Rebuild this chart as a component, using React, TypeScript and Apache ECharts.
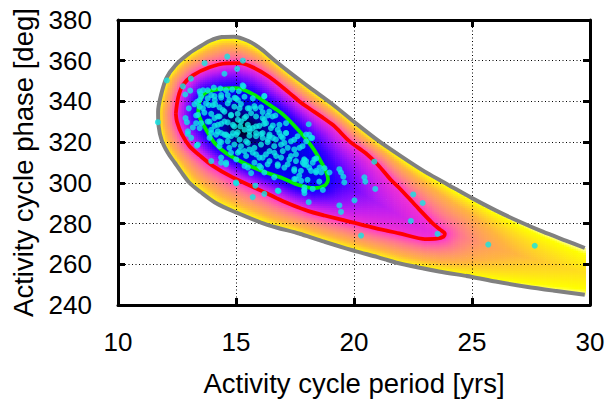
import React, { useEffect, useRef } from "react";
import * as echarts from "echarts";

// ---------- axes ----------
const X_MIN = 10;
const X_MAX = 30;
const X_STEP = 5;
const Y_MIN = 240;
const Y_MAX = 380;
const Y_STEP = 20;
const X_TITLE = "Activity cycle period [yrs]";
const Y_TITLE = "Activity cycle phase [deg]";

// ---------- contours (period [yrs], phase [deg]) ----------
// outer (gray) contour, open at the right edge of the plot
const outerContour: number[][] = [
  [29.78, 268], [29, 271.5], [28, 276], [27, 281], [26, 286.5], [25, 292.5], [24, 299],
  [23, 305.5], [22, 313], [21, 321], [20, 330], [19.1, 338.5], [18.1, 347], [17.3, 354],
  [16.6, 360.5], [16.1, 365.5], [15.5, 369.8], [14.9, 371.8], [14.4, 371.6], [13.9, 369.8],
  [13.4, 366.5], [13.0, 363.5], [12.45, 358], [12.05, 351.5], [11.82, 343], [11.7, 335],
  [11.72, 328], [11.85, 321], [12.1, 315], [12.4, 310], [12.7, 305], [13.03, 300],
  [13.5, 295.5], [14.16, 290], [15.0, 285.5], [16.3, 279.5], [17.7, 275], [18.5, 272],
  [19.9, 267], [21.0, 263.5], [21.9, 260.5], [23.6, 256.5], [25.0, 253.8], [26.0, 251.5],
  [27.3, 249], [28.5, 247], [29.78, 245],
];
// middle (red) contour, closed
const middleContour: number[][] = [
  [12.45, 334], [12.55, 342], [12.75, 348], [13.17, 352.8], [13.88, 356.8], [14.6, 358.7],
  [15.15, 358.8], [15.71, 356.8], [16.42, 352], [17.26, 344.2], [17.69, 340], [18.11, 336.5],
  [19.1, 328.5], [19.8, 320.5], [20.5, 314.5], [21.0, 309], [21.6, 301], [21.92, 297.5],
  [22.6, 289], [23.3, 280.5], [23.65, 277], [23.85, 275], [23.8, 273.6], [23.5, 272.6],
  [23.05, 272.4], [21.92, 275.2], [20.9, 277.8], [19.94, 280.6], [18.11, 286], [17.0, 291],
  [16.28, 295], [14.86, 302.7], [14.0, 308.5], [13.46, 313.5], [13.03, 318], [12.7, 324],
  [12.5, 330], [12.45, 334],
];
// inner (green) contour, closed
const innerContour: number[][] = [
  [13.4, 334], [13.46, 340], [13.74, 344.5], [14.37, 346.2], [15.0, 346.5], [15.6, 344.3],
  [16.42, 338.3], [17.0, 333.5], [17.69, 325.3], [18.2, 318], [18.55, 311.5], [18.82, 305.5],
  [18.9, 301.5], [18.75, 298.6], [18.3, 297.4], [17.69, 298.8], [16.98, 302.3], [16.3, 305],
  [15.5, 308.8], [14.6, 314.5], [14.1, 319.5], [13.74, 326], [13.5, 331], [13.4, 334],
];
const densityPeak: number[] = [15.3, 326.5];

// ---------- individual solutions (cyan dots) ----------
const samples: number[][] = [
  [14.63, 362.0], [15.29, 360.0], [13.67, 358.8], [15.05, 356.0], [14.51, 353.6], [12.07, 350.3],
  [13.09, 351.2], [12.75, 347.4], [13.06, 345.3], [12.85, 343.4], [13.46, 345.0], [13.60, 345.5],
  [14.34, 346.3], [14.58, 345.5], [14.84, 345.8], [15.12, 345.0], [15.32, 347.4], [16.20, 342.6],
  [13.24, 338.6], [13.46, 340.7], [13.00, 336.6], [12.86, 331.8], [13.31, 333.1], [13.17, 327.2],
  [12.96, 324.0], [11.69, 329.8], [13.60, 336.6], [13.95, 343.1], [14.10, 340.7], [14.37, 343.1],
  [14.72, 340.7], [14.94, 341.8], [15.08, 340.7], [13.85, 338.2], [14.12, 338.6], [14.44, 335.8],
  [15.15, 336.6], [15.57, 336.6], [15.82, 336.6], [16.13, 334.7], [14.30, 332.6], [14.79, 333.1],
  [15.08, 331.0], [15.43, 332.6], [16.13, 331.8], [16.35, 333.1], [16.67, 333.1], [13.88, 330.1],
  [14.09, 331.8], [14.23, 328.5], [14.51, 330.1], [14.87, 328.5], [15.18, 327.7], [15.57, 326.9],
  [15.85, 327.7], [16.19, 328.9], [16.56, 328.2], [17.12, 324.5], [13.46, 326.9], [13.95, 326.1],
  [14.37, 324.5], [14.58, 323.7], [15.01, 323.7], [16.06, 324.0], [16.42, 323.7], [16.91, 322.9],
  [12.96, 325.3], [13.10, 322.1], [13.38, 318.8], [13.88, 322.1], [14.16, 323.7], [14.30, 320.4],
  [14.65, 322.9], [14.87, 324.5], [15.15, 321.2], [15.43, 320.4], [15.57, 325.3], [15.85, 322.9],
  [16.13, 324.5], [16.35, 321.2], [16.56, 322.1], [16.84, 324.5], [17.05, 319.6], [17.47, 321.2],
  [17.69, 317.2], [17.97, 320.4], [14.30, 318.0], [14.72, 317.2], [15.08, 314.8], [15.36, 315.6],
  [15.57, 316.4], [15.85, 314.0], [16.13, 312.4], [16.42, 315.6], [16.70, 313.2], [16.98, 315.6],
  [17.26, 311.5], [17.54, 314.0], [17.83, 309.9], [13.95, 310.7], [14.37, 312.4], [14.58, 309.9],
  [15.01, 311.5], [15.50, 307.5], [15.99, 308.3], [16.42, 310.7], [16.77, 309.1], [17.05, 307.5],
  [17.47, 305.9], [17.97, 310.7], [17.54, 301.8], [15.01, 299.7], [15.82, 298.6], [16.20, 294.6],
  [15.71, 293.0], [16.80, 295.9], [17.90, 296.5], [18.08, 328.8], [18.23, 322.1], [18.32, 311.6],
  [18.40, 312.0], [17.90, 311.1], [17.97, 308.8], [18.18, 305.9], [18.40, 305.9], [18.61, 305.1],
  [18.54, 307.5], [18.75, 307.2], [18.96, 305.1], [17.76, 301.0], [17.90, 297.8], [17.90, 294.9],
  [18.68, 296.5], [18.08, 290.5], [19.38, 306.7], [19.45, 305.1], [19.55, 303.0], [19.59, 300.2],
  [20.02, 291.4], [19.38, 288.9], [19.45, 285.7], [20.44, 302.7], [20.48, 300.6], [20.86, 310.4],
  [20.90, 297.0], [22.51, 294.3], [22.91, 290.1], [23.54, 274.9], [20.30, 274.1], [22.41, 281.3],
  [25.69, 269.7], [27.66, 269.1], [17.12, 329.3], [17.97, 323.7], [12.92, 329.8], [13.34, 318.3],
  [15.28, 347.9], [13.80, 345.5], [14.06, 346.8], [13.49, 343.9], [13.52, 342.3], [13.80, 341.5],
  [14.09, 342.6], [14.37, 341.9], [14.65, 343.1], [15.00, 341.5], [15.36, 342.3], [15.71, 341.5],
  [16.20, 342.6], [13.35, 339.8], [13.46, 337.4], [13.73, 339.0], [14.02, 338.2], [14.30, 337.1],
  [14.65, 339.0], [14.93, 337.4], [15.21, 338.7], [15.50, 336.6], [15.78, 337.7], [16.06, 337.1],
  [16.41, 335.0], [13.39, 333.4], [13.66, 334.5], [13.95, 333.9], [14.23, 332.6], [14.51, 335.0],
  [14.79, 333.4], [15.07, 333.9], [15.36, 331.8], [15.64, 334.2], [15.85, 332.6], [16.20, 331.0],
  [16.55, 332.6], [16.84, 328.5], [13.52, 329.3], [13.80, 330.1], [14.09, 328.0], [14.37, 329.0],
  [14.65, 329.7], [14.93, 327.7], [15.21, 330.1], [15.50, 328.5], [15.71, 326.9], [15.99, 328.0],
  [16.27, 329.3], [16.48, 326.9], [16.77, 326.1], [17.12, 324.5], [13.95, 324.5], [14.23, 325.3],
  [14.51, 323.7], [14.79, 322.9], [15.07, 324.8], [15.36, 326.1], [15.57, 323.2], [15.85, 324.5],
  [16.13, 322.1], [16.41, 322.9], [16.69, 321.3], [16.98, 322.1], [17.33, 320.4], [17.61, 322.9],
  [18.10, 323.7], [18.18, 322.1], [14.37, 320.0], [14.65, 320.4], [14.93, 318.8], [15.21, 318.0],
  [15.50, 319.6], [15.78, 317.2], [16.06, 318.8], [16.34, 320.0], [16.62, 318.0], [16.91, 318.8],
  [17.19, 317.2], [17.47, 316.4], [17.82, 318.0], [14.79, 314.8], [15.14, 315.6], [15.43, 313.2],
  [15.71, 314.8], [15.99, 312.4], [16.27, 314.0], [16.62, 314.8], [16.91, 312.4], [17.33, 313.2],
  [17.54, 310.7], [17.89, 311.6], [18.25, 309.9], [15.36, 308.3], [15.78, 309.9], [16.06, 307.5],
  [16.34, 309.1], [16.77, 308.3], [17.19, 309.1], [17.47, 306.7], [17.89, 309.1], [17.75, 305.9],
  [18.10, 307.5], [18.39, 305.1], [14.37, 309.9], [14.58, 309.1], [15.00, 300.2], [15.64, 304.8],
  [16.20, 305.1], [16.62, 302.7], [17.47, 301.9], [17.68, 303.5], [18.03, 301.5], [18.53, 300.6],
  [16.77, 296.2], [17.89, 296.2], [18.25, 297.0], [13.31, 329.3],
];

// ---------- layout / style ----------
const FONT = "'Liberation Sans', Arial, Helvetica, sans-serif";
const GRID = { left: 118, top: 20, width: 472, height: 289 };
const CELL_X = 0.1;
const CELL_Y = 1;
// colour ramp of the shading: level 0 = outer contour, 1 = middle, 2 = inner, 3 = peak
const PALETTE: [number, string][] = [
  [0, "#ffffb4"], [0.04, "#ffff00"], [0.15, "#ffdc20"], [0.3, "#ffb440"], [0.5, "#ff9868"],
  [0.7, "#ff7890"], [0.88, "#ff50b8"], [1.0, "#f532d2"], [1.25, "#c01ef0"], [1.5, "#7e0cff"],
  [1.75, "#3c00ff"], [2.0, "#0a00ff"], [2.3, "#0000d2"], [2.55, "#00008c"], [2.8, "#00003c"],
  [3.0, "#000000"],
];

const kx = GRID.width / (X_MAX - X_MIN);
const ky = GRID.height / (Y_MAX - Y_MIN);

function scaled(pts: number[][]): number[][] {
  return pts.map((p) => [p[0] * kx, p[1] * ky]);
}
function segDist(px: number, py: number, ax: number, ay: number, bx: number, by: number) {
  const dx = bx - ax, dy = by - ay;
  const l2 = dx * dx + dy * dy;
  let t = l2 > 0 ? ((px - ax) * dx + (py - ay) * dy) / l2 : 0;
  t = Math.max(0, Math.min(1, t));
  const qx = ax + t * dx - px, qy = ay + t * dy - py;
  return Math.sqrt(qx * qx + qy * qy);
}
function polyDist(px: number, py: number, pts: number[][]) {
  let d = Infinity;
  for (let i = 0; i < pts.length - 1; i++) {
    const v = segDist(px, py, pts[i][0], pts[i][1], pts[i + 1][0], pts[i + 1][1]);
    if (v < d) d = v;
  }
  return d;
}
function inside(px: number, py: number, pts: number[][]) {
  let c = false;
  for (let i = 0, j = pts.length - 1; i < pts.length; j = i++) {
    const xi = pts[i][0], yi = pts[i][1], xj = pts[j][0], yj = pts[j][1];
    if ((yi > py) !== (yj > py) && px < ((xj - xi) * (py - yi)) / (yj - yi) + xi) c = !c;
  }
  return c;
}
function hex(c: string) {
  return [parseInt(c.slice(1, 3), 16), parseInt(c.slice(3, 5), 16), parseInt(c.slice(5, 7), 16)];
}
const PAL = PALETTE.map(([v, c]) => [v, hex(c)] as [number, number[]]);
function levelColor(L: number) {
  if (L <= PAL[0][0]) return PALETTE[0][1];
  for (let i = 1; i < PAL.length; i++) {
    if (L <= PAL[i][0]) {
      const [v0, c0] = PAL[i - 1];
      const [v1, c1] = PAL[i];
      const t = (L - v0) / (v1 - v0);
      const r = Math.round(c0[0] + (c1[0] - c0[0]) * t);
      const g = Math.round(c0[1] + (c1[1] - c0[1]) * t);
      const b = Math.round(c0[2] + (c1[2] - c0[2]) * t);
      return `rgb(${r},${g},${b})`;
    }
  }
  return PALETTE[PALETTE.length - 1][1];
}

// shading cells derived from the three contours above
function buildShading(): number[][] {
  const outer = scaled(outerContour);
  const mid = scaled(middleContour);
  const inn = scaled(innerContour);
  const pk = [densityPeak[0] * kx, densityPeak[1] * ky];
  const cells: number[][] = [];
  const nx = Math.round((X_MAX - X_MIN) / CELL_X);
  const ny = Math.round((Y_MAX - Y_MIN) / CELL_Y);
  for (let i = 0; i < nx; i++) {
    const x = X_MIN + (i + 0.5) * CELL_X;
    for (let j = 0; j < ny; j++) {
      const y = Y_MIN + (j + 0.5) * CELL_Y;
      const px = x * kx, py = y * ky;
      if (!inside(px, py, outer)) continue;
      let L: number;
      if (!inside(px, py, mid)) {
        const dO = polyDist(px, py, outer);
        const dM = polyDist(px, py, mid);
        L = dO / (dO + dM);
      } else if (!inside(px, py, inn)) {
        const dM = polyDist(px, py, mid);
        const dI = polyDist(px, py, inn);
        L = 1 + dM / (dM + dI);
      } else {
        const dI = polyDist(px, py, inn);
        const dP = Math.hypot(px - pk[0], py - pk[1]);
        L = 2 + dI / (dI + dP);
      }
      cells.push([x, y, L]);
    }
  }
  return cells;
}

export default function App() {
  const ref = useRef<HTMLDivElement>(null);
  useEffect(() => {
    if (!ref.current) return;
    const chart = echarts.init(ref.current, undefined, { renderer: "svg" });
    const shading = buildShading();
    const frameLine = { show: true, onZero: false, lineStyle: { color: "#000", width: 3 } };
    const tick = { show: true, inside: true, length: 7, lineStyle: { color: "#000", width: 3 } };
    const grid = { show: true, lineStyle: { color: "#000", width: 1, type: [1, 2.5] as any } };
    chart.setOption({
      animation: false,
      backgroundColor: "#fff",
      textStyle: { fontFamily: FONT },
      grid: { ...GRID, containLabel: false },
      xAxis: [
        {
          type: "value", min: X_MIN, max: X_MAX, interval: X_STEP, position: "bottom", z: 2,
          axisLine: frameLine, axisTick: tick, splitLine: grid,
          axisLabel: { color: "#000", fontSize: 26, fontFamily: FONT, margin: 24 },
          name: X_TITLE, nameLocation: "middle", nameGap: 64,
          nameTextStyle: { color: "#000", fontSize: 27.5, fontFamily: FONT },
        },
        {
          type: "value", min: X_MIN, max: X_MAX, interval: X_STEP, position: "top", z: 2,
          axisLine: frameLine, axisTick: tick, splitLine: { show: false }, axisLabel: { show: false },
        },
      ],
      yAxis: [
        {
          type: "value", min: Y_MIN, max: Y_MAX, interval: Y_STEP, position: "left", z: 2,
          axisLine: frameLine, axisTick: tick, splitLine: grid,
          axisLabel: { color: "#000", fontSize: 26, fontFamily: FONT, margin: 26 },
          name: Y_TITLE, nameLocation: "middle", nameGap: 80,
          nameTextStyle: { color: "#000", fontSize: 27.5, fontFamily: FONT },
        },
        {
          type: "value", min: Y_MIN, max: Y_MAX, interval: Y_STEP, position: "right", z: 2,
          axisLine: frameLine, axisTick: tick, splitLine: { show: false }, axisLabel: { show: false },
        },
      ],
      series: [
        {
          type: "custom", z: 1, silent: true, xAxisIndex: 0, yAxisIndex: 0,
          encode: { x: 0, y: 1 },
          data: shading,
          renderItem: (_p: any, api: any) => {
            const x = api.value(0), y = api.value(1), L = api.value(2);
            const tl = api.coord([x - CELL_X / 2, y + CELL_Y / 2]);
            const sz = api.size([CELL_X, CELL_Y]);
            return {
              type: "rect",
              shape: { x: tl[0], y: tl[1], width: sz[0] + 0.7, height: sz[1] + 0.7 },
              style: { fill: levelColor(L) },
            };
          },
        },
        {
          type: "line", z: 3, silent: true, showSymbol: false, smooth: 0.3, data: outerContour,
          lineStyle: { color: "#808080", width: 4 },
        },
        {
          type: "line", z: 3, silent: true, showSymbol: false, smooth: 0.3, data: middleContour,
          lineStyle: { color: "#ff0000", width: 3.8 },
        },
        {
          type: "line", z: 3, silent: true, showSymbol: false, smooth: 0.3, data: innerContour,
          lineStyle: { color: "#00ee00", width: 3.8 },
        },
        {
          type: "scatter", z: 4, silent: true, symbolSize: 6, data: samples,
          itemStyle: { color: "#10e6e6" },
        },
      ],
    });
    return () => chart.dispose();
  }, []);
  return (
    <div
      ref={ref}
      style={{ position: "fixed", left: 0, top: 0, width: 610, height: 402, background: "#fff" }}
    />
  );
}
